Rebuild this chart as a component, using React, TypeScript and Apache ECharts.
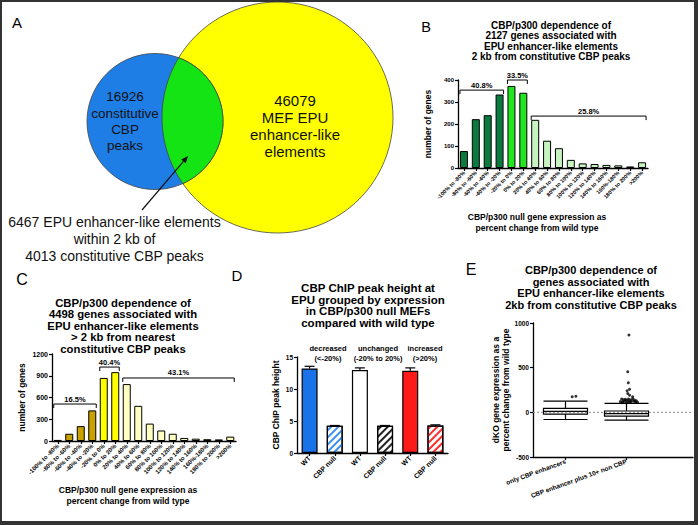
import React, { useEffect, useRef } from "react";
import * as echarts from "echarts";

const FONT = '"Liberation Sans", Arial, sans-serif';

// ---------- data ----------
const vennCounts = [16926, 46079];
const vennOverlap = [6467, 4013];

const binLabels = [
  "-100% to -80%", "-80% to -60%", "-60% to -40%", "-40% to -20%", "-20% to 0%", "0% to 20%",
  "20% to 40%", "40% to 60%", "60% to 80%", "80% to 100%", "100% to 120%", "120% to 140%",
  "140% to 160%", "160%-180%", "180% to 200%", ">200%",
];
const panelBCounts = [77, 222, 240, 334, 373, 342, 219, 124, 90, 37, 21, 18, 14, 12, 7, 26];
const panelCCounts = [15, 100, 205, 422, 870, 950, 785, 485, 240, 145, 100, 42, 32, 25, 22, 60];
const binGroupSizes = [4, 2, 10];
const panelBBrackets = [
  { from: 0, to: 3, level: 354, label: "40.8%" },
  { from: 4, to: 5, level: 400, label: "33.5%" },
  { from: 6, to: 15, level: 236, label: "25.8%" },
];
const panelCBrackets = [
  { from: 0, to: 3, level: 510, label: "16.5%" },
  { from: 4, to: 5, level: 1020, label: "40.4%" },
  { from: 6, to: 15, level: 869, label: "43.1%" },
];

const chipGroups = ["decreased\n(<-20%)", "unchanged\n(-20% to 20%)", "increased\n(>20%)"];
const chipCategories = ["WT", "CBP null", "WT", "CBP null", "WT", "CBP null"];
const chipMeans = [13.2, 4.25, 12.95, 4.25, 12.85, 4.3];
const chipSem = [0.35, 0.05, 0.35, 0.05, 0.45, 0.1];

const boxCategories = ["only CBP enhancers", "CBP enhancer plus 10+ non CBP"];
const boxStats = [
  [-80, -20, 10, 45, 125],
  [-88, -42, -15, 15, 100],
];
const boxOutliers = [
  [0.61, 175], [0.67, 180],
  [1.42, 150], [1.45, 140], [1.48, 146], [1.5, 135], [1.53, 148], [1.56, 140], [1.6, 152],
  [1.63, 138], [1.66, 130], [1.4, 120], [1.44, 118], [1.47, 125], [1.52, 122], [1.55, 118],
  [1.58, 128], [1.62, 124], [1.65, 115], [1.68, 112], [1.43, 108], [1.5, 105], [1.57, 110],
  [1.6, 175], [1.55, 192], [1.52, 210], [1.51, 242], [1.55, 258], [1.53, 330], [1.52, 455], [1.54, 866],
];

// ---------- styles ----------
const bGroupColors = ["#0b7a3e", "#22e622", "#c6f3bf"];
const cGroupColors = ["#c9a200", "#ffff00", "#ffffc2"];
const chipFill = ["#1a72e8", "#ffffff", "#ffffff", "#ffffff", "#ff1a1a", "#ffffff"];
const chipHatch = [null, "#3a8ef0", null, "#222222", null, "#ff2a2a"];

function expandColors(groupColors: string[]) {
  const out: string[] = [];
  binGroupSizes.forEach((n, g) => {
    for (let i = 0; i < n; i++) out.push(groupColors[g]);
  });
  return out;
}

function txt(x: number, y: number, text: string, size: number, opts: any = {}) {
  const lh = opts.lineHeight || size * 1.2;
  return {
    type: "text",
    x,
    y: opts.valign === "top" ? y - lh / 2 : y,
    silent: true,
    z: 10,
    style: {
      text,
      fontSize: size,
      fontWeight: opts.bold ? "bold" : "normal",
      fontFamily: FONT,
      fill: opts.color || "#000",
      align: opts.align || "center",
      verticalAlign: opts.valign || "middle",
      textAlign: opts.align || "center",
      textVerticalAlign: opts.valign || "middle",
      lineHeight: lh,
    },
  };
}

function lens(c1: any, c2: any) {
  const dx = c2.cx - c1.cx, dy = c2.cy - c1.cy;
  const d = Math.hypot(dx, dy);
  const a = (d * d + c1.r * c1.r - c2.r * c2.r) / (2 * d);
  const h = Math.sqrt(c1.r * c1.r - a * a);
  const ux = dx / d, uy = dy / d;
  const px = c1.cx + a * ux, py = c1.cy + a * uy;
  const down = [px - h * uy, py + h * ux];
  const up = [px + h * uy, py - h * ux];
  const pts: number[][] = [];
  const N = 48;
  let s = Math.atan2(up[1] - c1.cy, up[0] - c1.cx);
  let e = Math.atan2(down[1] - c1.cy, down[0] - c1.cx);
  if (e < s) e += Math.PI * 2;
  for (let i = 0; i <= N; i++) {
    const t = s + ((e - s) * i) / N;
    pts.push([c1.cx + c1.r * Math.cos(t), c1.cy + c1.r * Math.sin(t)]);
  }
  s = Math.atan2(down[1] - c2.cy, down[0] - c2.cx);
  e = Math.atan2(up[1] - c2.cy, up[0] - c2.cx);
  if (e < s) e += Math.PI * 2;
  for (let i = 0; i <= N; i++) {
    const t = s + ((e - s) * i) / N;
    pts.push([c2.cx + c2.r * Math.cos(t), c2.cy + c2.r * Math.sin(t)]);
  }
  return pts;
}

const axisLineStyle = { lineStyle: { color: "#000", width: 1.3 } };
const tickStyle = { length: 3, lineStyle: { color: "#000", width: 1.2 } };

export default function App() {
  const ref = useRef<HTMLDivElement>(null);
  useEffect(() => {
    if (!ref.current) return;
    const chart = echarts.init(ref.current, null, { renderer: "svg" });
    const bColors = expandColors(bGroupColors);
    const cColors = expandColors(cGroupColors);

    const valueAxis = (gridIndex: number, min: number, max: number, interval: number, fs: number, extra: any = {}) => ({
      type: "value",
      gridIndex,
      min,
      max,
      interval,
      axisLine: { show: true, onZero: false, ...axisLineStyle },
      axisTick: { show: true, ...tickStyle },
      splitLine: { show: false },
      axisLabel: { fontSize: fs, fontWeight: "bold", color: "#000", margin: 4, fontFamily: FONT, formatter: (v: number) => String(v) },
      nameLocation: "middle",
      nameRotate: 90,
      nameTextStyle: { fontSize: 8.5, fontWeight: "bold", color: "#000", fontFamily: FONT, lineHeight: 10 },
      ...extra,
    });
    const catAxis = (gridIndex: number, data: string[], fs: number, rotate: number, extra: any = {}) => ({
      type: "category",
      gridIndex,
      data,
      axisLine: { show: true, onZero: false, ...axisLineStyle },
      axisTick: { show: true, alignWithLabel: true, ...tickStyle },
      axisLabel: { interval: 0, rotate, fontSize: fs, fontWeight: "bold", color: "#000", margin: 4, fontFamily: FONT },
      ...extra,
    });

    const option: any = {
      animation: false,
      backgroundColor: "#fff",
      textStyle: { fontFamily: FONT },
      grid: [
        { left: 458, top: 80, width: 190, height: 88 },
        { left: 52, top: 354, width: 184, height: 87 },
        { left: 297, top: 357, width: 151, height: 96 },
        { left: 533, top: 323, width: 160, height: 134 },
        { left: 535, top: 323, width: 122, height: 134 },
      ],
      xAxis: [
        catAxis(0, binLabels, 5.5, 45),
        catAxis(1, binLabels, 6, 45),
        catAxis(2, chipCategories, 7, 45),
        { type: "value", gridIndex: 3, min: 0, max: 1, axisLine: { show: true, onZero: false, ...axisLineStyle }, axisTick: { show: false }, axisLabel: { show: false }, splitLine: { show: false } },
        catAxis(4, boxCategories, 6.5, 20, { axisLine: { show: false, onZero: false } }),
        { type: "value", gridIndex: 4, min: 0, max: 2, show: false },
      ],
      yAxis: [
        valueAxis(0, 0, 400, 100, 6, { name: "number of genes", nameGap: 25 }),
        valueAxis(1, 0, 1200, 300, 7, { name: "number of genes", nameGap: 25 }),
        valueAxis(2, 0, 15, 5, 6.5, { name: "CBP ChIP peak height", nameGap: 16 }),
        valueAxis(3, -500, 1000, 500, 6.5, { name: "dKO gene expression as a\npercent change from wild type", nameGap: 21 }),
        { type: "value", gridIndex: 4, min: -500, max: 1000, show: false },
      ],
      series: [
        {
          type: "bar", xAxisIndex: 0, yAxisIndex: 0, data: panelBCounts, barWidth: 8,
          itemStyle: { color: (p: any) => bColors[p.dataIndex], borderColor: "#000", borderWidth: 1 },
        },
        {
          type: "bar", xAxisIndex: 1, yAxisIndex: 1, data: panelCCounts, barWidth: 8,
          itemStyle: { color: (p: any) => cColors[p.dataIndex], borderColor: "#000", borderWidth: 1 },
        },
        {
          type: "bar", xAxisIndex: 2, yAxisIndex: 2, barWidth: 16,
          data: chipMeans.map((v, i) => ({
            value: v,
            itemStyle: {
              color: chipFill[i],
              borderColor: "#000",
              borderWidth: 1.2,
              decal: chipHatch[i]
                ? { symbol: "rect", symbolSize: 1, dashArrayX: [1, 0], dashArrayY: [1.6, 2.2], rotation: -Math.PI / 4, color: chipHatch[i] }
                : "none",
            },
          })),
        },
        {
          type: "custom", xAxisIndex: 2, yAxisIndex: 2, z: 5,
          data: chipMeans.map((m, i) => [i, m, chipSem[i]]),
          renderItem: (params: any, api: any) => {
            const x = api.value(0), m = api.value(1), e = api.value(2);
            const base = api.coord([x, m]);
            const top = api.coord([x, m + e]);
            const st = { stroke: "#000", lineWidth: 1.2 };
            return {
              type: "group",
              children: [
                { type: "line", shape: { x1: base[0], y1: base[1], x2: base[0], y2: top[1] }, style: st },
                { type: "line", shape: { x1: base[0] - 5, y1: top[1], x2: base[0] + 5, y2: top[1] }, style: st },
              ],
            };
          },
        },
        {
          type: "line", xAxisIndex: 3, yAxisIndex: 3, data: [[0, 0], [1, 0]], symbol: "none", silent: true,
          lineStyle: { color: "#888", width: 1, type: [2, 2] },
        },
        {
          type: "boxplot", xAxisIndex: 4, yAxisIndex: 4, data: boxStats, boxWidth: [44, 44],
          itemStyle: { color: "#fff", borderColor: "#000", borderWidth: 1.2 },
        },
        {
          type: "scatter", xAxisIndex: 5, yAxisIndex: 4, data: boxOutliers, symbolSize: 3,
          itemStyle: { color: "#000" }, z: 6,
        },
      ],
    };
    chart.setOption(option);

    // ---------- graphics ----------
    const g: any[] = [];
    // Venn
    const blue = { cx: 155, cy: 121.5, r: 68 };
    const yellow = { cx: 277.5, cy: 117.5, r: 115.5 };
    g.push({ type: "circle", shape: { cx: yellow.cx, cy: yellow.cy, r: yellow.r }, style: { fill: "#ffff00", stroke: "#444", lineWidth: 0.8 } });
    g.push({ type: "circle", shape: { cx: blue.cx, cy: blue.cy, r: blue.r }, style: { fill: "#1f7ee6", stroke: "#444", lineWidth: 0.8 } });
    g.push({ type: "polygon", shape: { points: lens(blue, yellow) }, style: { fill: "#14e414", stroke: "#444", lineWidth: 0.8 } });
    g.push(txt(125, 97, `${vennCounts[0]}\nconstitutive\nCBP\npeaks`, 13.5, { valign: "top", lineHeight: 16.3, color: "#111" }));
    g.push(txt(295, 100, `${vennCounts[1]}\nMEF EPU\nenhancer-like\nelements`, 15, { valign: "top", lineHeight: 17, color: "#111" }));
    g.push(txt(114.5, 222, `${vennOverlap[0]} EPU enhancer-like elements\nwithin 2 kb of\n${vennOverlap[1]} constitutive CBP peaks`, 14, { valign: "top", lineHeight: 17.2, color: "#111" }));
    // arrow
    const ax1 = 142, ay1 = 210, ax2 = 188, ay2 = 156;
    const ang = Math.atan2(ay2 - ay1, ax2 - ax1);
    const hl = 7, hw = 3;
    const bx = ax2 - hl * Math.cos(ang), by = ay2 - hl * Math.sin(ang);
    g.push({ type: "line", shape: { x1: ax1, y1: ay1, x2: bx, y2: by }, style: { stroke: "#111", lineWidth: 1.2 } });
    g.push({
      type: "polygon",
      shape: { points: [[ax2, ay2], [bx - hw * Math.sin(ang), by + hw * Math.cos(ang)], [bx + hw * Math.sin(ang), by - hw * Math.cos(ang)]] },
      style: { fill: "#111" },
    });

    // panel letters
    g.push(txt(17, 22, "A", 15));
    g.push(txt(426, 27, "B", 14.5));
    g.push(txt(22, 279, "C", 16));
    g.push(txt(237, 275, "D", 15));
    g.push(txt(471, 269, "E", 16));

    // titles
    g.push(txt(551, 25, "CBP/p300 dependence of\n2127 genes associated with\nEPU enhancer-like elements\n2 kb from constitutive CBP peaks", 10, { bold: true, valign: "top", lineHeight: 10.6 }));
    g.push(txt(123, 303, "CBP/p300 dependence of\n4498 genes associated with\nEPU enhancer-like elements\n> 2 kb from nearest\nconstitutive CBP peaks", 11.3, { bold: true, valign: "top", lineHeight: 11.4 }));
    g.push(txt(368, 288, "CBP ChIP peak height at\nEPU grouped by expression\nin CBP/p300 null MEFs\ncompared with wild type", 11.5, { bold: true, valign: "top", lineHeight: 11.7 }));
    g.push(txt(591, 270, "CBP/p300 dependence of\ngenes associated with\nEPU enhancer-like elements\n2kb from constitutive CBP peaks", 11, { bold: true, valign: "top", lineHeight: 11.7 }));

    // x-axis titles
    g.push(txt(537, 217, "CBP/p300 null gene expression as\npercent change from wild type", 8.5, { bold: true, valign: "top", lineHeight: 10.5 }));
    g.push(txt(128, 490, "CBP/p300 null gene expression as\npercent change from wild type", 8.5, { bold: true, valign: "top", lineHeight: 10.5 }));

    // D group labels
    const groupX = [328, 378, 425];
    chipGroups.forEach((t, i) => g.push(txt(groupX[i], 348, t, 7.5, { bold: true, valign: "top", lineHeight: 10 })));

    // brackets
    const addBrackets = (gridIndex: number, list: any[]) => {
      list.forEach((b) => {
        const p1 = chart.convertToPixel({ gridIndex } as any, [b.from, b.level]) as number[];
        const p2 = chart.convertToPixel({ gridIndex } as any, [b.to, b.level]) as number[];
        const x1 = p1[0] - 4, x2 = p2[0] + 4, y = p1[1];
        g.push({ type: "polyline", shape: { points: [[x1, y + 4], [x1, y], [x2, y], [x2, y + 4]] }, style: { stroke: "#000", lineWidth: 1, fill: null }, z: 10 });
        g.push(txt((x1 + x2) / 2, y - 5, b.label, 7.5, { bold: true }));
      });
    };
    addBrackets(0, panelBBrackets);
    addBrackets(1, panelCBrackets);

    // frame
    const fc = "#333";
    g.push({ type: "rect", shape: { x: 0, y: 0, width: 698, height: 2 }, style: { fill: fc }, z: 20 });
    g.push({ type: "rect", shape: { x: 0, y: 0, width: 2, height: 525 }, style: { fill: fc }, z: 20 });
    g.push({ type: "rect", shape: { x: 694, y: 0, width: 4, height: 525 }, style: { fill: fc }, z: 20 });
    g.push({ type: "rect", shape: { x: 0, y: 521, width: 698, height: 4 }, style: { fill: fc }, z: 20 });

    chart.setOption({ graphic: g });
    return () => chart.dispose();
  }, []);
  return (
    <div
      ref={ref}
      style={{ position: "absolute", left: 0, top: 0, width: 698, height: 525, background: "#fff" }}
    />
  );
}
